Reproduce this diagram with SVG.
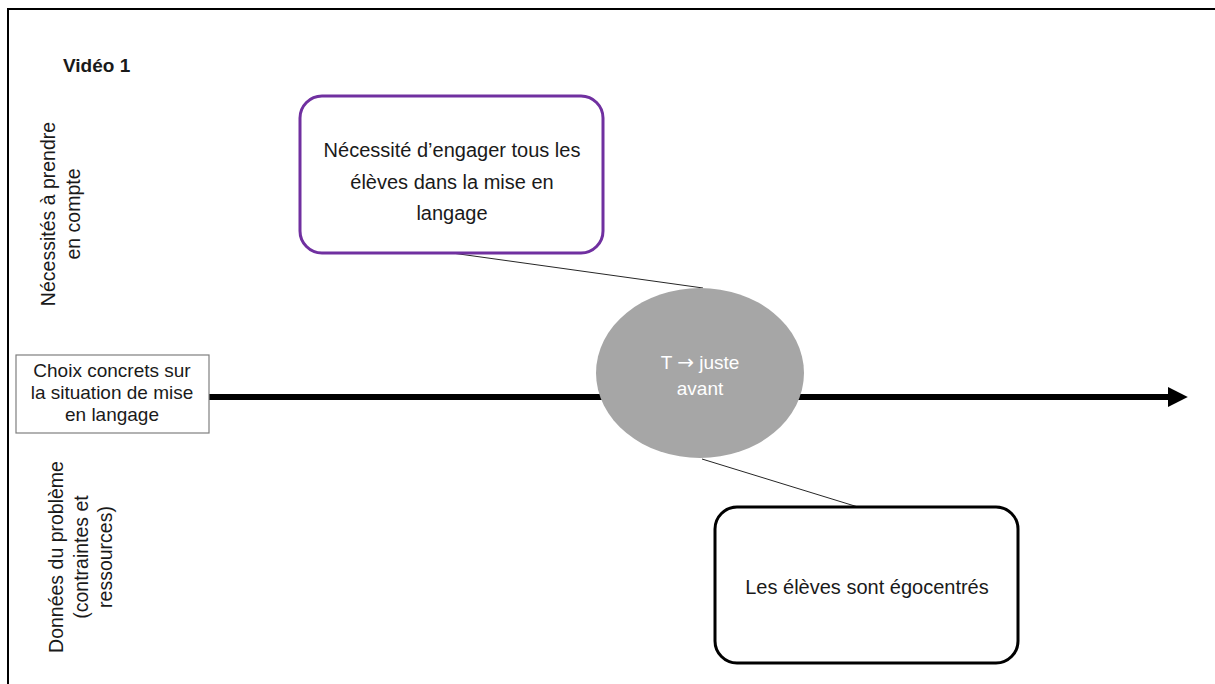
<svg xmlns="http://www.w3.org/2000/svg" width="1215" height="684" viewBox="0 0 1215 684">
<style>
text{font-family:"Liberation Sans",Arial,sans-serif;fill:#1a1a1a}
.c{text-anchor:middle}
.box{fill:#fff;stroke-width:3}
.conn{stroke:#262626;stroke-width:1;fill:none}
.side{font-size:19.5px}
</style>
<defs>
<marker id="ah" markerWidth="4" markerHeight="4" refX="0" refY="2" orient="auto" markerUnits="strokeWidth">
<path d="M0,0 L3.3,1.65 L0,3.3 Z" transform="translate(0,0.35)" fill="#000"/>
</marker>
</defs>
<rect width="1215" height="684" fill="#fff"/>
<path d="M8,684 V9 H1215" fill="none" stroke="#000" stroke-width="2"/>
<text x="63" y="72" font-size="19" font-weight="bold">Vidéo 1</text>
<text class="c side" transform="rotate(-90 55 214)" x="55" y="214">Nécessités à prendre</text>
<text class="c side" transform="rotate(-90 80 214)" x="80" y="214">en compte</text>
<text class="c side" transform="rotate(-90 63 557)" x="63" y="557">Données du problème</text>
<text class="c side" transform="rotate(-90 88 557)" x="88" y="557">(contraintes et</text>
<text class="c side" transform="rotate(-90 112 557)" x="112" y="557">ressources)</text>
<g id="connectors">
<line x1="209" y1="397" x2="1168" y2="397" stroke="#000" stroke-width="6" marker-end="url(#ah)"/>
<line class="conn" x1="452" y1="253" x2="703" y2="288"/>
<line class="conn" x1="702" y1="459" x2="858" y2="507"/>
</g>
<g id="node-choix">
<rect x="16" y="355" width="193" height="78" fill="#fff" stroke="#7f7f7f" stroke-width="1.2"/>
<text class="c" x="112" y="377" font-size="19">Choix concrets sur</text>
<text class="c" x="112" y="399" font-size="19">la situation de mise</text>
<text class="c" x="112" y="421" font-size="19">en langage</text>
</g>
<g id="node-necessite">
<rect class="box" x="300" y="96" width="303" height="157" rx="22" stroke="#7030A0"/>
<text class="c" x="452" y="157" font-size="20">Nécessité d’engager tous les</text>
<text class="c" x="452" y="189" font-size="20">élèves dans la mise en</text>
<text class="c" x="452" y="220" font-size="20">langage</text>
</g>
<g id="node-t">
<ellipse cx="700" cy="373" rx="104" ry="85" fill="#a6a6a6"/>
<text class="c" x="700" y="369" font-size="19" style="fill:#fff">T <tspan font-family="DejaVu Sans" font-size="20" style="fill:#fff">→</tspan> juste</text>
<text class="c" x="700" y="395" font-size="19" style="fill:#fff">avant</text>
</g>
<g id="node-egocentres">
<rect class="box" x="715" y="507" width="303" height="156" rx="22" stroke="#000"/>
<text class="c" x="867" y="594" font-size="20">Les élèves sont égocentrés</text>
</g>
</svg>
